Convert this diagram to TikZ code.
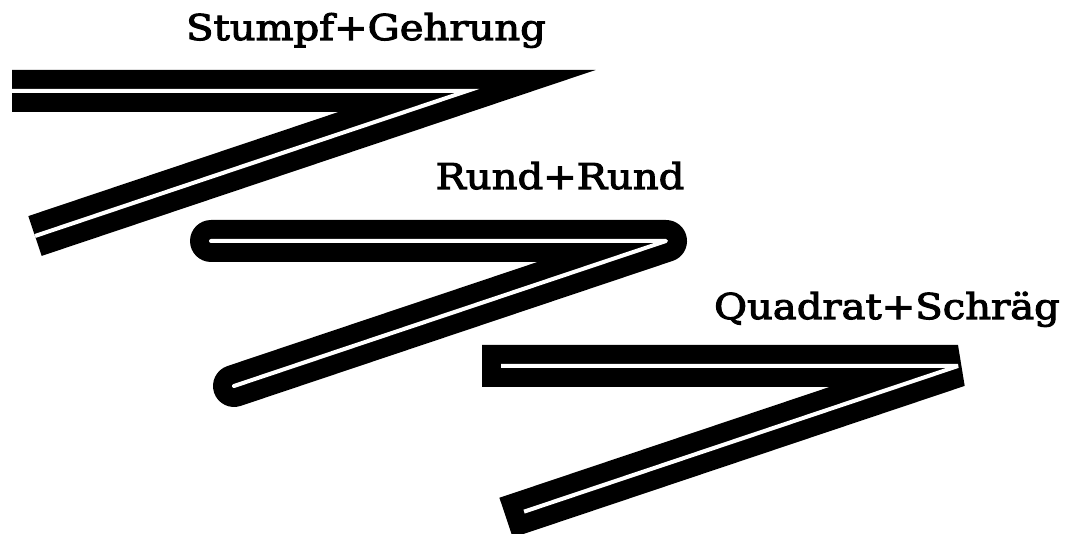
\documentclass[tikz,border=0pt]{standalone}
\usepackage{fontspec}
\newfontfamily\lblfont[FakeStretch=1.13,FakeBold=3]{DejaVu Serif}
\begin{document}
\begin{tikzpicture}[x=1pt,y=-1pt,
  band/.style={line width=42pt,draw=black},
  core/.style={line width=4pt,draw=white},
  label/.style={anchor=base,inner sep=0pt,font=\lblfont\fontsize{35.5}{40}\selectfont}]
\useasboundingbox (0,0) rectangle (1068,534);
% butt cap, miter join
\begin{scope}[shift={(12,91)},line cap=butt,line join=miter]
  \draw[band] (0,0) -- (455,0) -- (23,145);
  \draw[core] (0,0) -- (455,0) -- (23,145);
\end{scope}
% round cap, round join
\begin{scope}[shift={(211,241)},line cap=round,line join=round]
  \draw[band] (0,0) -- (455,0) -- (23,145);
  \draw[core] (0,0) -- (455,0) -- (23,145);
\end{scope}
% square cap, bevel join
\begin{scope}[shift={(503,366)},line cap=rect,line join=bevel]
  \draw[band] (0,0) -- (455,0) -- (23,145);
  \draw[core] (0,0) -- (455,0) -- (23,145);
\end{scope}
\node[label] (t1) at (366,40) {Stumpf+Gehrung};
\node[label] (t2) at (560,189) {Rund+Rund};
\node[label] (t3) at (887,319) {Quadrat+Schräg};
\end{tikzpicture}
\end{document}
